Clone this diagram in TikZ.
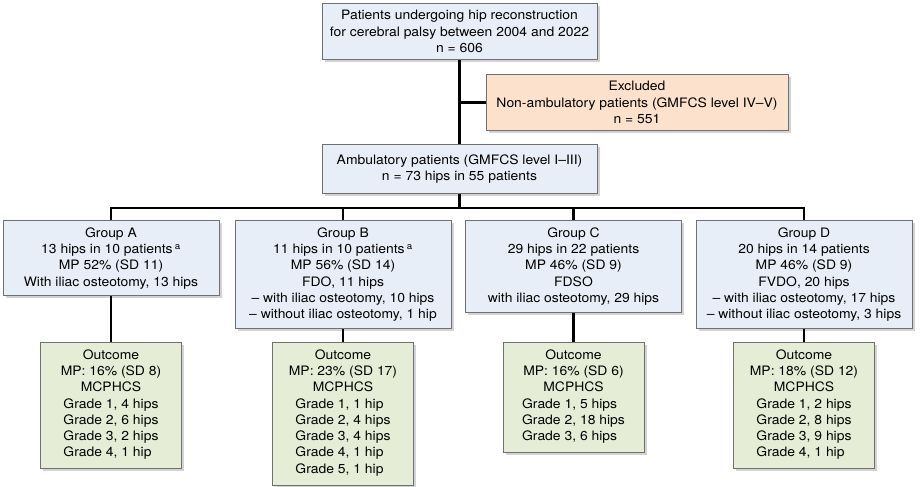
\documentclass[tikz,border=0pt]{standalone}
\usepackage{fontspec}
\setmainfont{TeX Gyre Heros}[FakeStretch=1.07]
\usetikzlibrary{shadows}
\definecolor{boxblue}{HTML}{E8EEF7}
\definecolor{boxorange}{HTML}{FCE1CD}
\definecolor{boxgreen}{HTML}{E6EDD7}
\definecolor{boxline}{HTML}{707070}
\begin{document}
\begin{tikzpicture}[x=1pt,y=-1pt,
  box/.style={draw=boxline,line width=0.8pt,align=center,anchor=north,
    inner xsep=4pt,inner ysep=7pt,font=\fontsize{13}{16.3}\selectfont,
    drop shadow={shadow xshift=2.5pt,shadow yshift=-2.5pt,opacity=0.35}},
  bluebox/.style={box,fill=boxblue},
  orangebox/.style={box,fill=boxorange},
  greenbox/.style={box,fill=boxgreen,minimum width=141pt},
  groupbox/.style={bluebox,minimum width=216pt},
  link/.style={black,line width=2.3pt}]
\useasboundingbox (0,0) rectangle (924,487);

% top of the chart
\node[bluebox,minimum width=275pt] (pat) at (459.5,3)
  {Patients undergoing hip reconstruction\\for cerebral palsy between 2004 and 2022\\n = 606};
\node[orangebox,minimum width=302pt] (excl) at (637,74)
  {Excluded\\Non-ambulatory patients (GMFCS level IV--V)\\n = 551};
\node[bluebox,minimum width=275pt,minimum height=49pt] (amb) at (459.5,144)
  {Ambulatory patients (GMFCS level I--III)\\n = 73 hips in 55 patients};
\coordinate (bus) at (459.5,208);

% groups
\node[groupbox] (gA) at (111,220)
  {Group A\\13 hips in 10 patients\,\textsuperscript{a}\\MP 52\% (SD 11)\\With iliac osteotomy, 13 hips};
\node[groupbox] (gB) at (343,220)
  {Group B\\11 hips in 10 patients\,\textsuperscript{a}\\MP 56\% (SD 14)\\FDO, 11 hips\\-- with iliac osteotomy, 10 hips\\-- without iliac osteotomy, 1 hip};
\node[groupbox] (gC) at (573.5,220)
  {Group C\\29 hips in 22 patients\\MP 46\% (SD 9)\\FDSO\\with iliac osteotomy, 29 hips};
\node[groupbox] (gD) at (804,220)
  {Group D\\20 hips in 14 patients\\MP 46\% (SD 9)\\FVDO, 20 hips\\-- with iliac osteotomy, 17 hips\\-- without iliac osteotomy, 3 hips};

% outcomes
\node[greenbox] (oA) at (111,342)
  {Outcome\\MP: 16\% (SD 8)\\MCPHCS\\\begin{tabular}[t]{@{}l@{}}Grade 1, 4 hips\\Grade 2, 6 hips\\Grade 3, 2 hips\\Grade 4, 1 hip\end{tabular}};
\node[greenbox] (oB) at (343,342)
  {Outcome\\MP: 23\% (SD 17)\\MCPHCS\\\begin{tabular}[t]{@{}l@{}}Grade 1, 1 hip\\Grade 2, 4 hips\\Grade 3, 4 hips\\Grade 4, 1 hip\\Grade 5, 1 hip\end{tabular}};
\node[greenbox] (oC) at (573.5,342)
  {Outcome\\MP: 16\% (SD 6)\\MCPHCS\\\begin{tabular}[t]{@{}l@{}}Grade 1, 5 hips\\Grade 2, 18 hips\\Grade 3, 6 hips\end{tabular}};
\node[greenbox] (oD) at (804,342)
  {Outcome\\MP: 18\% (SD 12)\\MCPHCS\\\begin{tabular}[t]{@{}l@{}}Grade 1, 2 hips\\Grade 2, 8 hips\\Grade 3, 9 hips\\Grade 4, 1 hip\end{tabular}};

% connectors
\draw[link] (pat.south) -- (amb.north);
\draw[link] (excl.west -| pat.south) -- (excl.west);
\draw[link] (amb.south) -- (bus);
\draw[link] (gA.north) -- (gA.north |- bus) -- (gD.north |- bus) -- (gD.north);
\foreach \g in {gB,gC}
  \draw[link] (\g.north |- bus) -- (\g.north);
\foreach \g/\o in {gA/oA,gB/oB,gC/oC,gD/oD}
  \draw[link] (\g.south) -- (\o.north);
\end{tikzpicture}
\end{document}
